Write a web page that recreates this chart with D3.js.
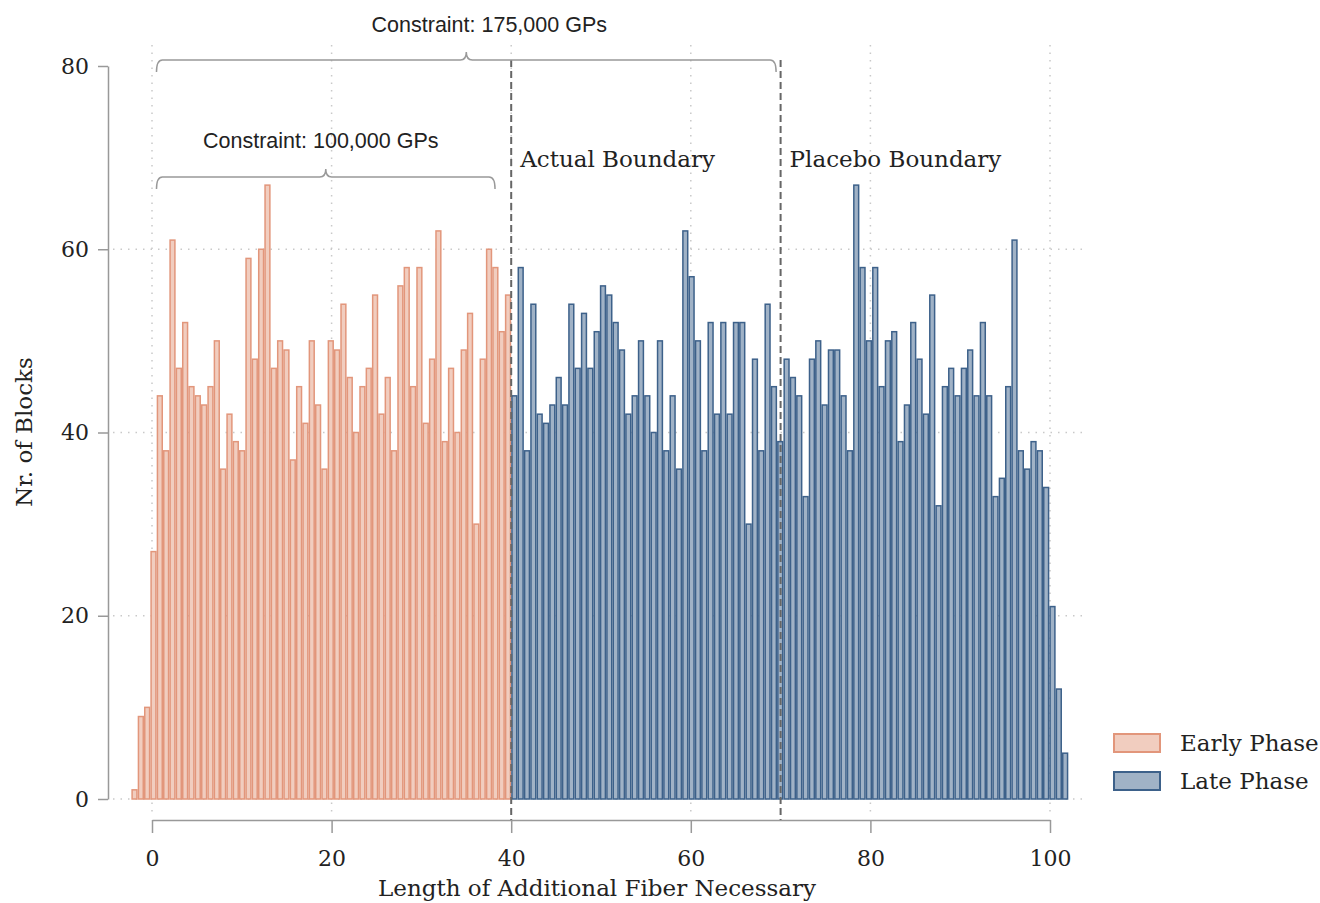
<!DOCTYPE html>
<html>
<head>
<meta charset="utf-8">
<script src="https://cdn.jsdelivr.net/npm/d3@7"></script>
<style>
  body { margin: 0; background: #fff; }
  svg { display: block; }
</style>
</head>
<body>
<svg></svg>
<script>
// histogram counts, one per bin, left to right
var earlyCounts = [1, 9, 10, 27, 44, 38, 61, 47, 52, 45, 44, 43, 45, 50, 36, 42, 39, 38, 59, 48,
                   60, 67, 47, 50, 49, 37, 45, 41, 50, 43, 36, 50, 49, 54, 46, 40, 45, 47, 55, 42,
                   46, 38, 56, 58, 45, 58, 41, 48, 62, 39, 47, 40, 49, 53, 30, 48, 60, 58, 51, 55];
var lateCounts = [44, 58, 38, 54, 42, 41, 43, 46, 43, 54, 47, 53, 47, 51, 56, 55, 52, 49, 42, 44,
                  50, 44, 40, 50, 38, 44, 36, 62, 57, 50, 38, 52, 42, 52, 42, 52, 52, 30, 48, 38,
                  54, 45, 39, 48, 46, 44, 33, 48, 50, 43, 49, 49, 44, 38, 67, 58, 50, 58, 45, 50,
                  51, 39, 43, 52, 48, 42, 55, 32, 45, 47, 44, 47, 49, 44, 52, 44, 33, 35, 45, 61,
                  38, 36, 39, 38, 34, 21, 12, 5];
var binWidth = 0.705;
var actualBoundary = 40;
var placeboBoundary = 70;
var xTicks = [0, 20, 40, 60, 80, 100];
var yTicks = [0, 20, 40, 60, 80];
var yGrid = [0, 20, 40, 60];
var seriesNames = ["Early Phase", "Late Phase"];
var boundaryLabels = ["Actual Boundary", "Placebo Boundary"];
// braces: [from, to, label]
var braces = [
  [0.5, 69.5, "Constraint: 175,000 GPs"],
  [0.5, 38.2, "Constraint: 100,000 GPs"]
];

var width = 1320;
var height = 903;
var serif = "'DejaVu Serif', serif";
var sans = "'Liberation Sans', Arial, sans-serif";
var colors = {
  early: { fill: "#f1cdbf", stroke: "#e2967b" },
  late: { fill: "#a0b2c6", stroke: "#3d618a" }
};

var bars = [];
earlyCounts.forEach(function(c, i) {
  var x0 = actualBoundary - (earlyCounts.length - i) * binWidth;
  bars.push({ x0: x0, x1: x0 + binWidth, n: c, phase: "early" });
});
lateCounts.forEach(function(c, i) {
  var x0 = actualBoundary + i * binWidth;
  bars.push({ x0: x0, x1: x0 + binWidth, n: c, phase: "late" });
});

var xScale = d3.scaleLinear().domain([0, 100]).range([152, 1050]);
var yScale = d3.scaleLinear().domain([0, 80]).range([799, 66]);

var svg = d3.select("svg")
  .attr("width", width)
  .attr("height", height);

// gridlines
svg.append("g").selectAll("line")
  .data(yGrid)
  .enter().append("line")
  .attr("x1", 113).attr("x2", 1088)
  .attr("y1", d => yScale(d)).attr("y2", d => yScale(d))
  .attr("stroke", "#c9c9c9")
  .attr("stroke-width", 1.5)
  .attr("stroke-dasharray", "1.5,6");

svg.append("g").selectAll("line")
  .data(xTicks)
  .enter().append("line")
  .attr("x1", d => xScale(d)).attr("x2", d => xScale(d))
  .attr("y1", 45).attr("y2", 815)
  .attr("stroke", "#c9c9c9")
  .attr("stroke-width", 1.5)
  .attr("stroke-dasharray", "1.5,6");

// bars
svg.append("g").selectAll("rect")
  .data(bars)
  .enter().append("rect")
  .attr("x", d => xScale(d.x0) + 0.75)
  .attr("y", d => yScale(d.n))
  .attr("width", d => xScale(d.x1) - xScale(d.x0) - 1.5)
  .attr("height", d => yScale(0) - yScale(d.n))
  .attr("fill", d => colors[d.phase].fill)
  .attr("stroke", d => colors[d.phase].stroke)
  .attr("stroke-width", 1.5);

// boundary lines
svg.append("g").selectAll("line")
  .data([actualBoundary, placeboBoundary])
  .enter().append("line")
  .attr("x1", d => xScale(d)).attr("x2", d => xScale(d))
  .attr("y1", 60).attr("y2", 820)
  .attr("stroke", "#666")
  .attr("stroke-width", 2)
  .attr("stroke-dasharray", "7,4");

svg.append("g").selectAll("text")
  .data([actualBoundary, placeboBoundary])
  .enter().append("text")
  .attr("x", d => xScale(d) + 9)
  .attr("y", 167)
  .attr("font-family", serif)
  .attr("font-size", 23)
  .attr("fill", "#222")
  .text((d, i) => boundaryLabels[i]);

// braces
var braceY = [60, 177];
var braceTextY = [32, 148];
var braceTextShift = [23, -5];
braces.forEach(function(b, i) {
  var xa = xScale(b[0]), xb = xScale(b[1]);
  var xm = (xa + xb) / 2;
  var y0 = braceY[i];
  var r = 6;
  var path = d3.path();
  path.moveTo(xa, y0 + 12);
  path.quadraticCurveTo(xa, y0, xa + r, y0);
  path.lineTo(xm - r, y0);
  path.quadraticCurveTo(xm, y0, xm, y0 - 8);
  path.quadraticCurveTo(xm, y0, xm + r, y0);
  path.lineTo(xb - r, y0);
  path.quadraticCurveTo(xb, y0, xb, y0 + 12);
  svg.append("path")
    .attr("d", path.toString())
    .attr("fill", "none")
    .attr("stroke", "#999")
    .attr("stroke-width", 1.5);
  svg.append("text")
    .attr("x", xm + braceTextShift[i])
    .attr("y", braceTextY[i])
    .attr("text-anchor", "middle")
    .attr("font-family", sans)
    .attr("font-size", 21.5)
    .attr("fill", "#222")
    .text(b[2]);
});

// axes
var yAxis = svg.append("g")
  .attr("transform", "translate(108,0)")
  .call(d3.axisLeft(yScale).tickValues(yTicks).tickSize(10).tickSizeOuter(0).tickPadding(9));

var xAxis = svg.append("g")
  .attr("transform", "translate(0,820)")
  .call(d3.axisBottom(xScale).tickValues(xTicks).tickSize(13).tickSizeOuter(0).tickPadding(17));

[yAxis, xAxis].forEach(function(ax) {
  ax.select(".domain").attr("stroke", "#999").attr("stroke-width", 1.5);
  ax.selectAll(".tick line").attr("stroke", "#999").attr("stroke-width", 1.5);
  ax.selectAll(".tick text")
    .attr("font-family", serif)
    .attr("font-size", 22)
    .attr("fill", "#222");
});

svg.append("text")
  .attr("x", 597)
  .attr("y", 896)
  .attr("text-anchor", "middle")
  .attr("font-family", serif)
  .attr("font-size", 23)
  .attr("fill", "#222")
  .text("Length of Additional Fiber Necessary");

svg.append("text")
  .attr("transform", "translate(32,432) rotate(-90)")
  .attr("text-anchor", "middle")
  .attr("font-family", serif)
  .attr("font-size", 23)
  .attr("fill", "#222")
  .text("Nr. of Blocks");

// legend
var legend = svg.append("g").selectAll("g")
  .data(seriesNames)
  .enter().append("g")
  .attr("transform", (d, i) => "translate(1114," + (734 + i * 38) + ")");

legend.append("rect")
  .attr("width", 46)
  .attr("height", 18)
  .attr("fill", (d, i) => i === 0 ? colors.early.fill : colors.late.fill)
  .attr("stroke", (d, i) => i === 0 ? colors.early.stroke : colors.late.stroke)
  .attr("stroke-width", 2);

legend.append("text")
  .attr("x", 66)
  .attr("y", 17)
  .attr("font-family", serif)
  .attr("font-size", 23)
  .attr("fill", "#222")
  .text(d => d);
</script>
</body>
</html>
